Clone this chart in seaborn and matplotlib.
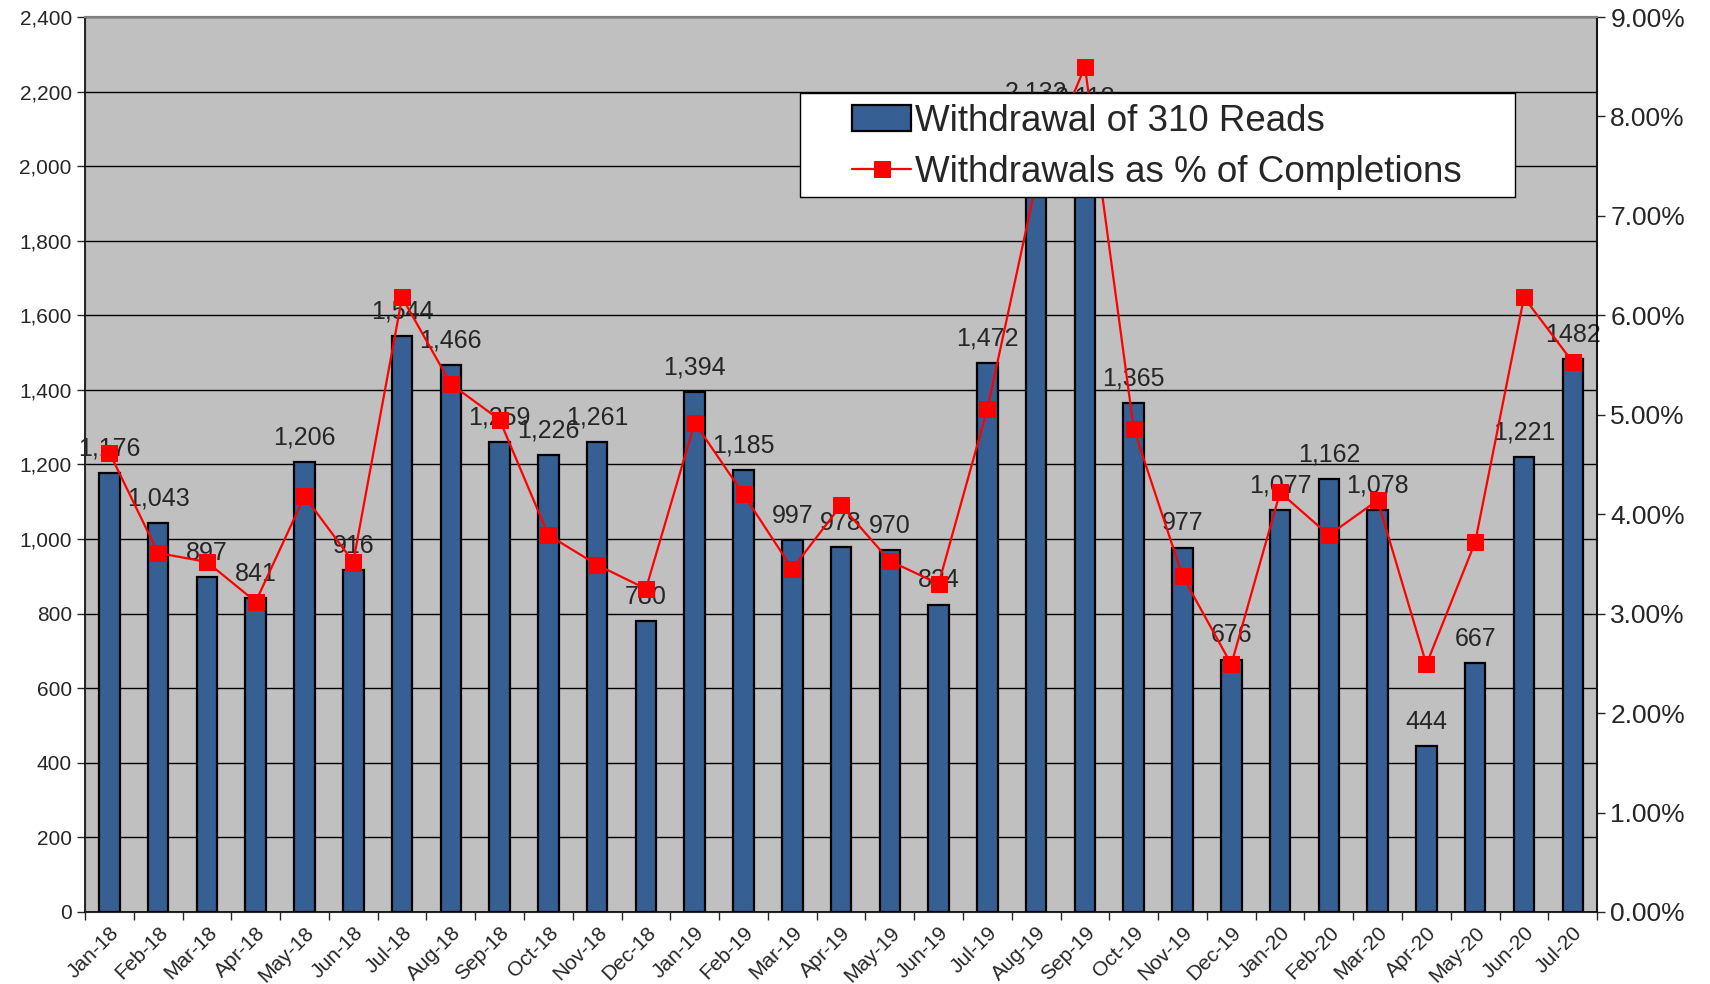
import numpy as np
import matplotlib
matplotlib.use("Agg")
import matplotlib.pyplot as plt
import matplotlib.patches as mpatches
import seaborn as sns
from matplotlib.ticker import FuncFormatter, MultipleLocator, FixedLocator

months = ["Jan-18", "Feb-18", "Mar-18", "Apr-18", "May-18", "Jun-18", "Jul-18", "Aug-18",
          "Sep-18", "Oct-18", "Nov-18", "Dec-18", "Jan-19", "Feb-19", "Mar-19", "Apr-19",
          "May-19", "Jun-19", "Jul-19", "Aug-19", "Sep-19", "Oct-19", "Nov-19", "Dec-19",
          "Jan-20", "Feb-20", "Mar-20", "Apr-20", "May-20", "Jun-20", "Jul-20"]

withdrawals = [1176, 1043, 897, 841, 1206, 916, 1544, 1466, 1259, 1226, 1261, 780,
               1394, 1185, 997, 978, 970, 824, 1472, 2132, 2118, 1365, 977, 676,
               1077, 1162, 1078, 444, 667, 1221, 1482]

bar_labels = ["1,176", "1,043", "897", "841", "1,206", "916", "1,544", "1,466", "1,259",
              "1,226", "1,261", "780", "1,394", "1,185", "997", "978", "970", "824",
              "1,472", "2,132", "2,118", "1,365", "977", "676", "1,077", "1,162", "1,078",
              "444", "667", "1,221", "1482"]

pct_completions = [4.62, 3.61, 3.52, 3.12, 4.18, 3.52, 6.18, 5.31, 4.95, 3.79, 3.49, 3.25,
                   4.92, 4.20, 3.45, 4.09, 3.53, 3.30, 5.06, 7.33, 8.50, 4.86, 3.38, 2.49,
                   4.22, 3.79, 4.14, 2.49, 3.72, 6.18, 5.53]

sns.set_style("white")
plt.rcParams['font.family'] = ['Liberation Sans', 'DejaVu Sans']

fig = plt.figure(figsize=(17.1, 9.84), dpi=100)
ax = fig.add_axes([0.0497, 0.0732, 0.8843, 0.9095])
ax.set_facecolor("#C0C0C0")

x = np.arange(len(months))

sns.barplot(x=months, y=withdrawals, ax=ax, color="#365F93", saturation=1,
            width=0.42, edgecolor="black", linewidth=1.6, zorder=3)

for i, (v, lab) in enumerate(zip(withdrawals, bar_labels)):
    ax.annotate(lab, (i, v), xytext=(0, 9), textcoords="offset points",
                ha="center", va="bottom", fontsize=18, zorder=4)

ax.set_xlim(-0.5, len(months) - 0.5)
ax.set_ylim(0, 2400)
ax.yaxis.set_major_locator(MultipleLocator(200))
ax.yaxis.set_major_formatter(FuncFormatter(lambda v, p: f"{v:,.0f}"))
ax.grid(True, axis="y", color="black", linewidth=1.0, zorder=0)
ax.set_axisbelow(True)
ax.tick_params(axis="y", labelsize=15, length=6, width=1, direction="out", left=True)

# Excel-style category ticks between bars
ax.xaxis.set_major_locator(FixedLocator(x))
ax.set_xticklabels(months, rotation=45, ha="right", rotation_mode="anchor", fontsize=15)
ax.tick_params(axis="x", which="major", length=0, pad=8, bottom=True)
ax.xaxis.set_minor_locator(FixedLocator(np.arange(-0.5, len(months), 1)))
ax.tick_params(axis="x", which="minor", length=6, width=1, direction="out", bottom=True)
ax.set_xlabel("")
ax.set_ylabel("")

for side in ["left", "bottom"]:
    ax.spines[side].set_color("black")
    ax.spines[side].set_linewidth(1.2)
for side in ["top", "right"]:
    ax.spines[side].set_color("#808080")
    ax.spines[side].set_linewidth(1.5)

ax2 = ax.twinx()
sns.lineplot(x=x, y=[p / 100 for p in pct_completions], ax=ax2, color="#FF0000",
             linewidth=1.6, marker="s", markersize=11, markeredgecolor="#FF0000",
             sort=False, label="Withdrawals as % of Completions", zorder=5)
ax2.set_ylim(0, 0.09)
ax2.yaxis.set_major_locator(MultipleLocator(0.01))
ax2.yaxis.set_major_formatter(FuncFormatter(lambda v, p: f"{v * 100:.2f}%"))
ax2.tick_params(axis="y", labelsize=19, length=6, width=1, direction="out", right=True)
ax2.set_ylabel("")
ax2.spines["right"].set_color("black")
ax2.spines["right"].set_linewidth(1.2)
ax2.spines["top"].set_color("#808080")
ax2.spines["top"].set_linewidth(1.5)

# legend box: white frame wider than its content, like the Excel original
ax2.add_patch(mpatches.Rectangle((0.473, 0.799), 0.473, 0.116, transform=ax2.transAxes,
                                 facecolor="white", edgecolor="black", linewidth=1.0,
                                 zorder=9))
bar_handle = mpatches.Patch(facecolor="#365F93", edgecolor="black",
                            linewidth=1.6, label="Withdrawal of 310 Reads")
line_handle = ax2.get_lines()[0]
leg = ax2.legend([bar_handle, line_handle],
                 ["Withdrawal of 310 Reads", "Withdrawals as % of Completions"],
                 loc="upper left", bbox_to_anchor=(0.5, 0.915), fontsize=26.5,
                 frameon=False, borderpad=0.3, labelspacing=0.42, handlelength=1.6,
                 handleheight=0.7, handletextpad=0.1, borderaxespad=0)
leg.set_zorder(10)

fig.savefig("out.png", dpi=100)
